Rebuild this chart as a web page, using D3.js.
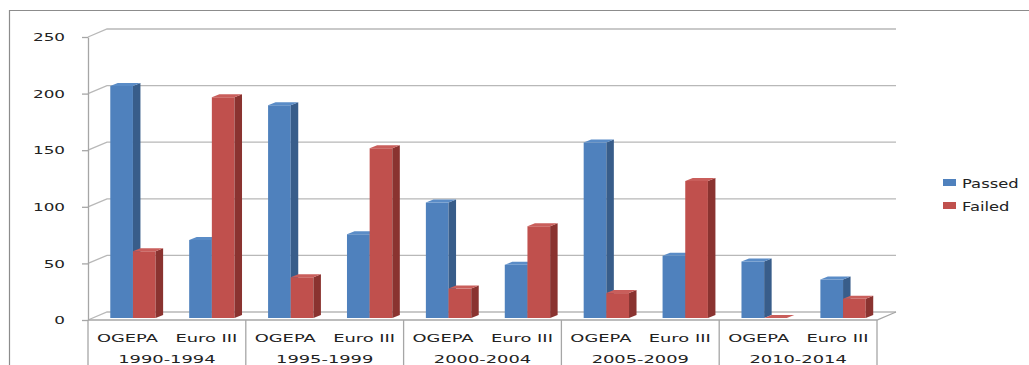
<!DOCTYPE html>
<html>
<head>
<meta charset="utf-8">
<script src="https://cdn.jsdelivr.net/npm/d3@7"></script>
<style>
  html, body { margin: 0; padding: 0; background: #fff; }
  svg { display: block; }
  text { font-family: "DejaVu Sans", sans-serif; fill: #222; }
</style>
</head>
<body>
<div id="chart"></div>
<script>
// data
const periods = ['1990-1994', '1995-1999', '2000-2004', '2005-2009', '2010-2014'];
const standards = ['OGEPA', 'Euro III'];
const seriesNames = ['Passed', 'Failed'];
const passed = [205, 69, 188, 74, 102, 47, 155, 55, 50, 34];
const failed = [59, 195, 36, 150, 26, 81, 22, 121, 0, 17];
const yTicks = [0, 50, 100, 150, 200, 250];

const width = 1029;
const height = 365;

const colors = {
  Passed: { front: '#4f81bd', side: '#385d8a', top: '#5a8cc7' },
  Failed: { front: '#c0504d', side: '#8a3330', top: '#c95e5b' }
};

// 3d offsets: wall depth and bar placement inside the depth
const wall = { dx: 19, dy: -8 };
const barPlane = { dx: 5.5, dy: -2 };
const barDepth = { dx: 7.5, dy: -3 };

const categories = [];
periods.forEach(function(p, i) {
  standards.forEach(function(s, j) {
    categories.push({ period: p, standard: s, key: p + '|' + s, idx: i * 2 + j });
  });
});

const rows = categories.map(function(c, i) {
  return { cat: c, values: [
    { name: 'Passed', value: passed[i] },
    { name: 'Failed', value: failed[i] }
  ] };
});

const svg = d3.select('#chart')
  .append('svg')
  .attr('width', width)
  .attr('height', height);

// outer frame (cut off at the right and bottom)
svg.append('path')
  .attr('d', 'M9.5,' + height + 'V10.5H' + width)
  .style('fill', 'none')
  .style('stroke', '#8c8c8c')
  .style('stroke-width', 1.2);

const x = d3.scaleBand()
  .domain(categories.map(c => c.key))
  .range([88, 877]);

const xPeriod = d3.scaleBand()
  .domain(periods)
  .range([88, 877]);

const xSeries = d3.scaleBand()
  .domain(seriesNames)
  .range([0, x.bandwidth()])
  .paddingInner(0)
  .paddingOuter(0.74);

const y = d3.scaleLinear()
  .domain([0, 250])
  .range([320, 37]);

const plotLeft = x.range()[0];
const plotRight = x.range()[1];

// walls: side wall diagonals and back wall gridlines
const grid = svg.append('g').attr('class', 'grid');

grid.selectAll('path.wallline')
  .data(yTicks)
  .enter()
  .append('path')
  .attr('class', 'wallline')
  .attr('d', d => 'M' + plotLeft + ',' + y(d) +
    'L' + (plotLeft + wall.dx) + ',' + (y(d) + wall.dy) +
    'H' + (plotRight + wall.dx))
  .style('fill', 'none')
  .style('stroke', '#b8b8b8')
  .style('stroke-width', 1.3);

// floor front edge and right diagonal
grid.append('path')
  .attr('d', 'M' + plotLeft + ',' + y(0) + 'H' + plotRight +
    'L' + (plotRight + wall.dx) + ',' + (y(0) + wall.dy))
  .style('fill', 'none')
  .style('stroke', '#a6a6a6')
  .style('stroke-width', 1.3);

// y axis
const yAxis = svg.append('g')
  .attr('transform', 'translate(' + plotLeft + ',0)')
  .call(d3.axisLeft(y)
    .tickValues(yTicks)
    .tickSizeInner(6)
    .tickSizeOuter(0)
    .tickPadding(17));

yAxis.select('.domain').style('stroke', '#a6a6a6').style('stroke-width', 1.3);
yAxis.selectAll('.tick line').style('stroke', '#a6a6a6').style('stroke-width', 1.3);
yAxis.selectAll('.tick text')
  .attr('x', -23 / 1.6)
  .attr('dy', '0.36em')
  .attr('transform', 'scale(1.6,1)')
  .style('font-family', '"DejaVu Sans", sans-serif')
  .style('font-size', '10.5px')
  .style('fill', '#222');

// bars
function prism(x0, y0, w, h) {
  const fx = x0 + barPlane.dx;
  const fy = y0 + barPlane.dy;
  return {
    front: [[fx, fy - h], [fx + w, fy - h], [fx + w, fy], [fx, fy]],
    side: [[fx + w, fy - h], [fx + w + barDepth.dx, fy - h + barDepth.dy],
      [fx + w + barDepth.dx, fy + barDepth.dy], [fx + w, fy]],
    top: [[fx, fy - h], [fx + barDepth.dx, fy - h + barDepth.dy],
      [fx + w + barDepth.dx, fy - h + barDepth.dy], [fx + w, fy - h]]
  };
}

const line = d3.line();

const catGroups = svg.append('g')
  .attr('class', 'bars')
  .selectAll('g.cat')
  .data(rows)
  .enter()
  .append('g')
  .attr('class', 'cat');

catGroups.selectAll('g.bar')
  .data(d => d.values.map(v => Object.assign({ key: d.cat.key }, v)))
  .enter()
  .append('g')
  .attr('class', 'bar')
  .each(function(d) {
    const g = d3.select(this);
    const x0 = x(d.key) + xSeries(d.name);
    const h = y(0) - y(d.value);
    const p = prism(x0, y(0), xSeries.bandwidth(), h);
    const c = colors[d.name];
    g.append('path').attr('d', line(p.front) + 'Z').style('fill', c.front);
    g.append('path').attr('d', line(p.side) + 'Z').style('fill', c.side);
    g.append('path').attr('d', line(p.top) + 'Z').style('fill', c.top);
  });

// category table under the plot
const table = svg.append('g').attr('class', 'x-axis');

table.selectAll('line.sep')
  .data(periods.map(p => xPeriod(p)).concat([plotRight]))
  .enter()
  .append('line')
  .attr('class', 'sep')
  .attr('x1', d => d)
  .attr('x2', d => d)
  .attr('y1', y(0))
  .attr('y2', height)
  .style('stroke', '#a6a6a6')
  .style('stroke-width', 1.3);

const sx = 1.58;

table.selectAll('text.std')
  .data(categories)
  .enter()
  .append('text')
  .attr('class', 'std')
  .attr('text-anchor', 'middle')
  .attr('x', d => (x(d.key) + x.bandwidth() / 2) / sx)
  .attr('y', 342)
  .attr('transform', 'scale(' + sx + ',1)')
  .style('font-size', '11.3px')
  .text(d => d.standard);

// period labels right at the bottom edge
table.selectAll('text.period')
  .data(periods)
  .enter()
  .append('text')
  .attr('class', 'period')
  .attr('text-anchor', 'middle')
  .attr('x', d => (xPeriod(d) + xPeriod.bandwidth() / 2) / sx)
  .attr('y', 363.5)
  .attr('transform', 'scale(' + sx + ',1)')
  .style('font-size', '11.3px')
  .text(d => d);

// legend
const legend = svg.append('g')
  .attr('class', 'legend')
  .attr('transform', 'translate(943,179)');

const legendItems = legend.selectAll('g.item')
  .data(seriesNames)
  .enter()
  .append('g')
  .attr('class', 'item')
  .attr('transform', (d, i) => 'translate(0,' + i * 23 + ')');

legendItems.append('rect')
  .attr('width', 13)
  .attr('height', 7)
  .style('fill', d => colors[d].front);

legendItems.append('text')
  .attr('x', 19 / 1.33)
  .attr('y', 8.5)
  .attr('transform', 'scale(1.33,1)')
  .style('font-size', '12.3px')
  .text(d => d);
</script>
</body>
</html>
